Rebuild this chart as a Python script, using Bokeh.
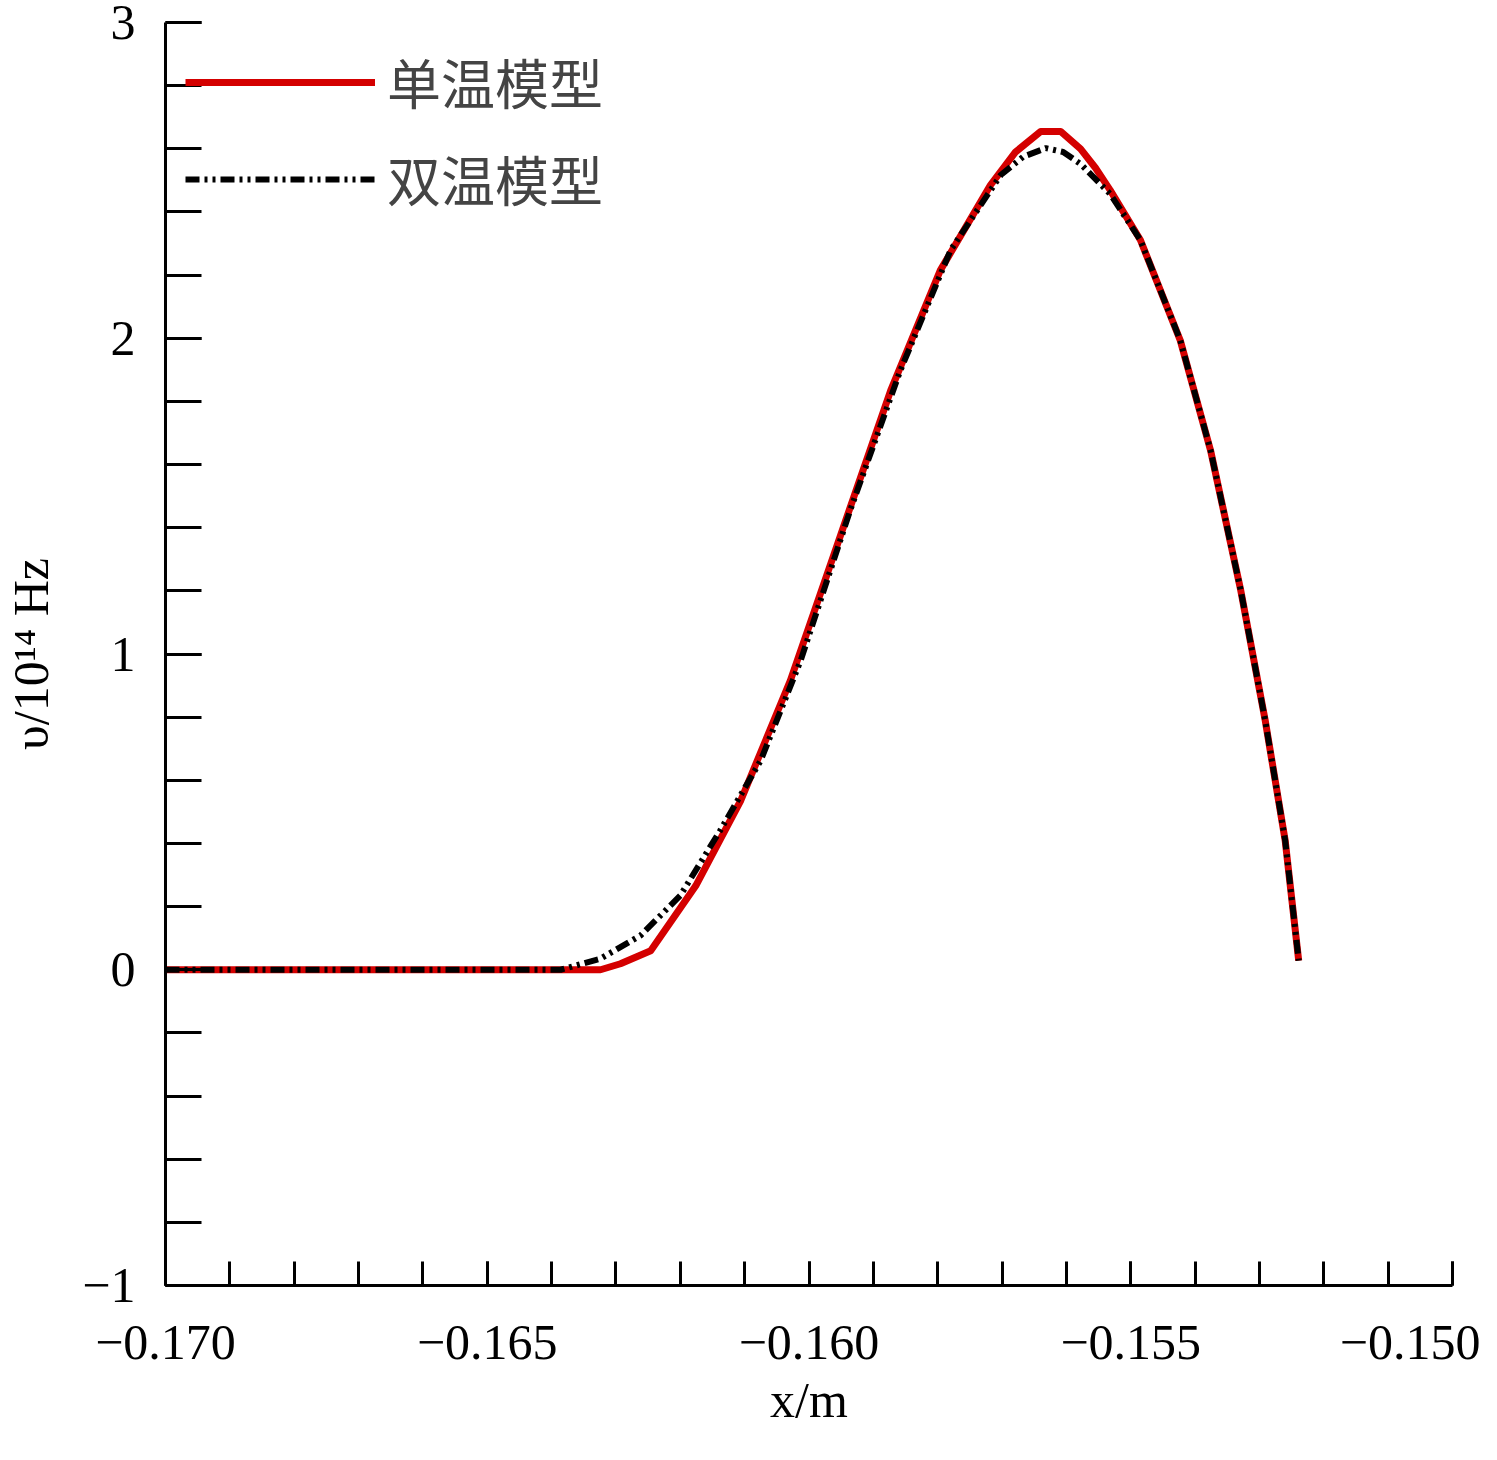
from bokeh.plotting import figure
from bokeh.embed import file_html
from bokeh.resources import INLINE
from bokeh.models import Range1d, SingleIntervalTicker, CustomJSTickFormatter, Legend, LegendItem

x_single = [-0.1700, -0.16324, -0.16293, -0.16246, -0.16176, -0.16106, -0.16029, -0.15951, -0.15873,
            -0.15796, -0.15718, -0.15679, -0.15640, -0.15609, -0.15578, -0.15555, -0.15532, -0.15485,
            -0.15423, -0.15376, -0.15329, -0.15291, -0.15260, -0.15239]
v_single = [0, 0, 0.019, 0.060, 0.266, 0.536, 0.916, 1.376, 1.835, 2.215, 2.485, 2.590, 2.655, 2.655,
            2.600, 2.540, 2.469, 2.311, 1.993, 1.645, 1.201, 0.789, 0.409, 0.029]
x_double = [-0.1700, -0.16386, -0.16324, -0.16262, -0.16200, -0.16138, -0.16075, -0.16013, -0.15936,
            -0.15858, -0.15780, -0.15702, -0.15667, -0.15632, -0.15605, -0.15578, -0.15532, -0.15485,
            -0.15423, -0.15376, -0.15329, -0.15291, -0.15260, -0.15239]
v_double = [0, 0, 0.035, 0.108, 0.235, 0.441, 0.663, 0.979, 1.455, 1.898, 2.279, 2.517, 2.575, 2.602,
            2.590, 2.552, 2.457, 2.311, 1.993, 1.645, 1.201, 0.789, 0.409, 0.029]
labels = ["单温模型", "双温模型"]

p = figure(width=1480, height=1440, output_backend="svg", toolbar_location=None,
           x_range=Range1d(-0.170, -0.150), y_range=Range1d(-1, 3),
           min_border_left=165, min_border_right=28, min_border_top=22, min_border_bottom=155)
p.outline_line_color = None
p.grid.visible = False
p.background_fill_color = "white"

r1 = p.line(x_single, v_single, line_color="#d40000", line_width=7, line_join="round")
r2 = p.line(x_double, v_double, line_color="black", line_width=6, line_dash="14 5 3 5 3 5", line_join="round")

font = "Liberation Serif"
for ax in [p.xaxis[0], p.yaxis[0]]:
    ax.axis_line_width = 3
    ax.major_tick_line_width = 3
    ax.minor_tick_line_width = 3
    ax.major_tick_out = 0
    ax.minor_tick_out = 0
    ax.major_label_text_font = font
    ax.major_label_text_font_size = "50px"
    ax.major_label_text_color = "black"
    ax.axis_label_text_font = font
    ax.axis_label_text_font_size = "50px"
    ax.axis_label_text_font_style = "normal"
    ax.axis_label_text_color = "black"

p.xaxis.ticker = SingleIntervalTicker(interval=0.005, num_minor_ticks=5)
p.yaxis.ticker = SingleIntervalTicker(interval=1, num_minor_ticks=5)
p.xaxis.major_tick_in = 24
p.xaxis.minor_tick_in = 24
p.yaxis.major_tick_in = 36
p.yaxis.minor_tick_in = 36
p.xaxis.major_label_standoff = 40
p.yaxis.major_label_standoff = 30
p.xaxis.formatter = CustomJSTickFormatter(code="return tick.toFixed(3).replace('-', '\u2212');")
p.yaxis.formatter = CustomJSTickFormatter(code="return Math.round(tick).toString().replace('-', '\u2212');")
p.xaxis.axis_label = "x/m"
p.yaxis.axis_label = "υ/10¹⁴ Hz"
p.xaxis.axis_label_standoff = 10
p.yaxis.axis_label_standoff = 20

leg = Legend(items=[LegendItem(label=labels[0], renderers=[r1]), LegendItem(label=labels[1], renderers=[r2])],
             location="top_left", border_line_color=None, background_fill_alpha=0,
             label_text_font="Noto Sans CJK SC", label_text_font_size="54px",
             glyph_width=190, glyph_height=60, label_height=60, spacing=18, margin=20,
             padding=58, label_standoff=12)
p.legend.padding = 58
p.add_layout(leg)

open("out.html", "w").write(file_html(p, INLINE))
